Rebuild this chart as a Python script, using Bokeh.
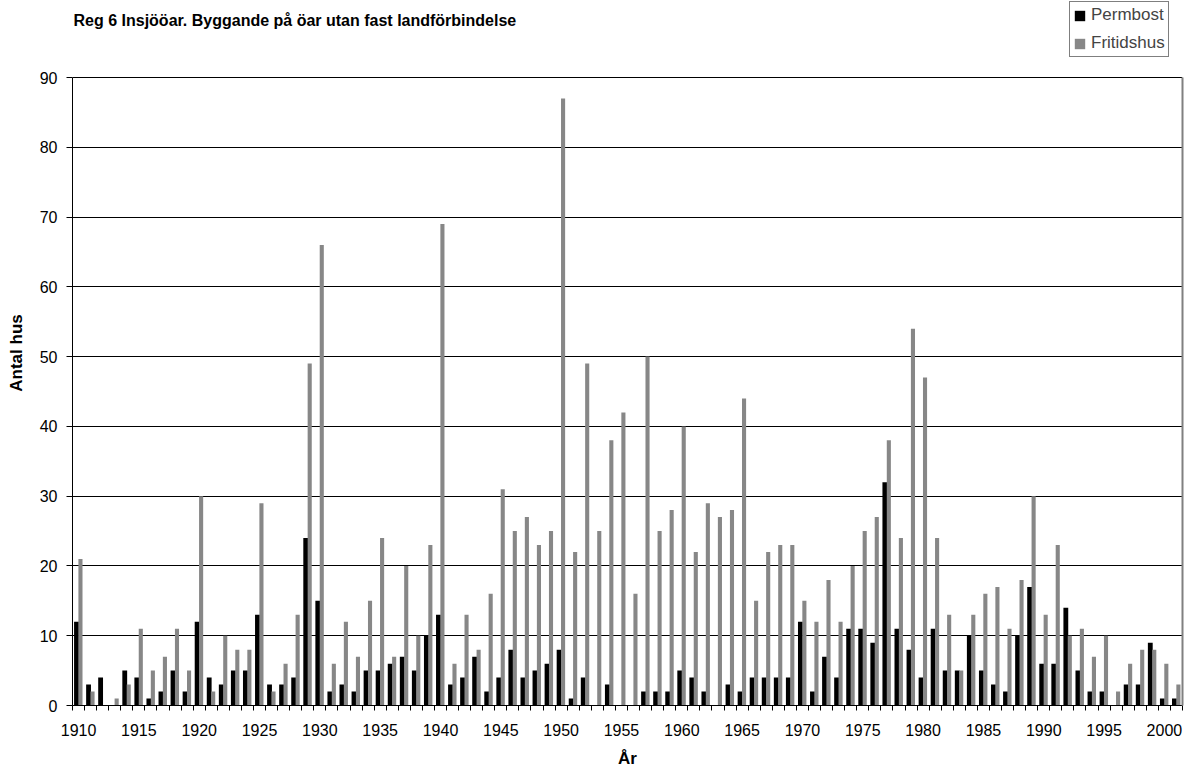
from bokeh.plotting import figure
from bokeh.models import (Range1d, FixedTicker, Legend, LegendItem, Label,
                          ColumnDataSource, LinearAxis)
from bokeh.transform import dodge
from bokeh.embed import file_html
from bokeh.resources import INLINE

years = list(range(1910, 2002))
permbost = [12, 3, 4, 0, 5, 4, 1, 2, 5, 2,
            12, 4, 3, 5, 5, 13, 3, 3, 4, 24,
            15, 2, 3, 2, 5, 5, 6, 7, 5, 10,
            13, 3, 4, 7, 2, 4, 8, 4, 5, 6,
            8, 1, 4, 0, 3, 0, 0, 2, 2, 2,
            5, 4, 2, 0, 3, 2, 4, 4, 4, 4,
            12, 2, 7, 4, 11, 11, 9, 32, 11, 8,
            4, 11, 5, 5, 10, 5, 3, 2, 10, 17,
            6, 6, 14, 5, 2, 2, 0, 3, 3, 9,
            1, 1]
fritidshus = [21, 2, 0, 1, 3, 11, 5, 7, 11, 5,
              30, 2, 10, 8, 8, 29, 2, 6, 13, 49,
              66, 6, 12, 7, 15, 24, 7, 20, 10, 23,
              69, 6, 13, 8, 16, 31, 25, 27, 23, 25,
              87, 22, 49, 25, 38, 42, 16, 50, 25, 28,
              40, 22, 29, 27, 28, 44, 15, 22, 23, 23,
              15, 12, 18, 12, 20, 25, 27, 38, 24, 54,
              47, 24, 13, 5, 13, 16, 17, 11, 18, 30,
              13, 23, 10, 11, 7, 10, 2, 6, 8, 8,
              6, 3]
label_years = list(range(1910, 2001, 5))
y_ticks = list(range(0, 91, 10))
series_names = ["Permbost", "Fritidshus"]
title_text = "Reg 6 Insjööar. Byggande på öar utan fast landförbindelse"

FONT = "Liberation Sans"
W, H = 1197, 771
BL, BR, BB = 72, 15, 66
PLOT_TOP = 77                  # pixel row of the 90 gridline
frame_w = W - BL - BR
frame_h = H - BB               # frame reaches the top of the canvas
y_max = 90.0
y_top = y_max * frame_h / (frame_h - PLOT_TOP)
px_x = frame_w / len(years)
px_y = frame_h / y_top

src = ColumnDataSource(dict(year=years, perm=permbost, frit=fritidshus))

p = figure(width=W, height=H, output_backend="svg", toolbar_location=None,
           x_range=Range1d(years[0] - 0.5, years[-1] + 0.5), y_range=Range1d(0, y_top),
           min_border_left=BL, min_border_right=BR, min_border_top=0, min_border_bottom=BB)
p.background_fill_color = "white"
p.border_fill_color = "white"
p.outline_line_color = None

rb = p.vbar(x=dodge("year", -0.17, range=p.x_range), top="perm", width=0.4, source=src,
            fill_color="black", line_color=None)
rg = p.vbar(x=dodge("year", 0.16, range=p.x_range), top="frit", width=0.34, source=src,
            fill_color="#878787", line_color=None)

# grid
p.xgrid.grid_line_color = None
p.ygrid.ticker = FixedTicker(ticks=y_ticks)
p.ygrid.grid_line_color = "black"
p.ygrid.grid_line_width = 1

# y axis
ya = p.yaxis[0]
ya.ticker = FixedTicker(ticks=y_ticks)
ya.bounds = (0, y_max)
ya.major_tick_in = 0
ya.major_tick_out = 6
ya.minor_tick_line_color = None
ya.axis_line_color = "black"
ya.major_label_text_font = FONT
ya.major_label_text_font_size = "16px"
ya.major_label_text_color = "black"
ya.major_label_standoff = 9
ya.axis_label = "Antal hus"
ya.axis_label_text_font = FONT
ya.axis_label_text_font_size = "17px"
ya.axis_label_text_font_style = "bold"
ya.axis_label_text_color = "black"
ya.axis_label_standoff = 11

# right border line
ra = LinearAxis(ticker=FixedTicker(ticks=[]), bounds=(0, y_max),
                axis_line_color="#808080", axis_line_width=2,
                major_tick_line_color=None, minor_tick_line_color=None,
                major_label_text_font_size="0px")
p.add_layout(ra, "right")

# x axis
xa = p.xaxis[0]
xa.ticker = FixedTicker(ticks=label_years,
                        minor_ticks=[y - 0.5 for y in years] + [years[-1] + 0.5])
xa.major_tick_line_color = None
xa.major_tick_out = 5
xa.major_tick_in = 0
xa.minor_tick_in = 0
xa.minor_tick_out = 5
xa.minor_tick_line_color = "black"
xa.axis_line_color = "black"
xa.major_label_text_font = FONT
xa.major_label_text_font_size = "16px"
xa.major_label_text_color = "black"
xa.major_label_standoff = 13
xa.axis_label = "År"
xa.axis_label_text_font = FONT
xa.axis_label_text_font_size = "17px"
xa.axis_label_text_font_style = "bold"
xa.axis_label_text_color = "black"
xa.axis_label_standoff = 10

# title, placed through the scales inside the (extended) frame
title = Label(x=years[0] - 0.5 + 1 / px_x, y=y_top - 20 / px_y,
              text=title_text, text_font=FONT, text_font_size="16px",
              text_font_style="bold", text_color="black",
              text_baseline="alphabetic", text_align="left")
p.add_layout(title)

legend = Legend(items=[LegendItem(label=series_names[0], renderers=[rb]),
                       LegendItem(label=series_names[1], renderers=[rg])],
                location=(1069 - BL, frame_h - 3 - 54),
                label_text_font=FONT, label_text_font_size="17px",
                glyph_width=13, glyph_height=13, label_standoff=5,
                padding=3, spacing=8, margin=0, label_height=20,
                border_line_color="black", border_line_width=1,
                background_fill_color="white", background_fill_alpha=1)
p.add_layout(legend)

open("out.html", "w").write(file_html(p, INLINE))
